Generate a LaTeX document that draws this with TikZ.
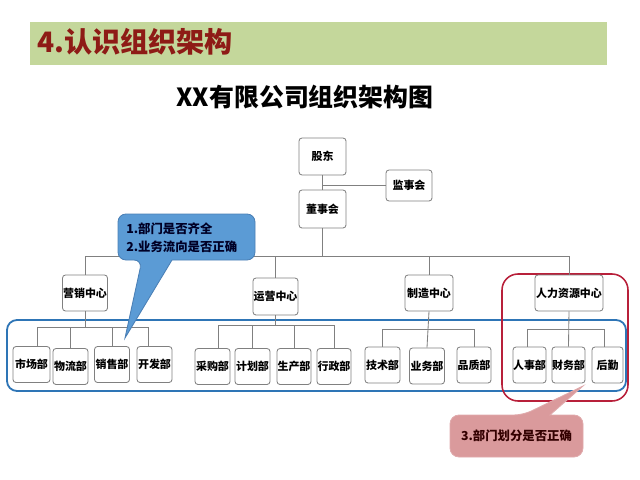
\documentclass[tikz,border=0pt]{standalone}
\usepackage{fontspec}
\setmainfont{Noto Sans CJK SC}
\definecolor{barG}{HTML}{C4D79B}
\definecolor{hdrR}{HTML}{8E1B16}
\definecolor{boxL}{HTML}{808080}
\definecolor{frameB}{HTML}{2E75B6}
\definecolor{frameR}{HTML}{B8203A}
\definecolor{callB}{HTML}{5B9BD5}
\definecolor{callBd}{HTML}{4A7FB5}
\definecolor{callR}{HTML}{DA9A9C}
\definecolor{callRd}{HTML}{E0AAAC}
\tikzset{
  orgbox/.style={draw=boxL, line width=0.6pt, fill=white, rounded corners=3*0.025cm,
    inner sep=0pt, font=\fontsize{7.8}{9}\selectfont\bfseries, text=black},
  kid/.style={orgbox, minimum width=35*0.025cm, minimum height=36*0.025cm},
  conn/.style={draw=boxL, line width=0.6pt},
}
\begin{document}
\begin{tikzpicture}[x=0.025cm, y=-0.025cm]
\useasboundingbox (0,0) rectangle (640,480);
% header
\fill[barG] (30,22) rectangle (607,65);
\node[anchor=west, text=hdrR, font=\fontsize{20}{22}\selectfont\bfseries, inner sep=0pt] (hdr) at (37,42) {4.认识组织架构};
\node[font=\fontsize{17.7}{20}\selectfont\bfseries, inner sep=0pt] (ttl) at (305,97) {XX有限公司组织架构图};

% frames
\draw[frameB, line width=1.3pt, rounded corners=10*0.025cm] (7,320) rectangle (626,391);
\draw[frameR, line width=1.1pt, rounded corners=16*0.025cm] (502,274) rectangle (628,401);

% top nodes
\node[orgbox, minimum width=47*0.025cm, minimum height=37*0.025cm] (gd) at (322.5,156.5) {股东};
\node[orgbox, minimum width=46*0.025cm, minimum height=31*0.025cm] (jsh) at (409,185.5) {监事会};
\node[orgbox, minimum width=47*0.025cm, minimum height=38*0.025cm] (dsh) at (322.5,209) {董事会};

% centers
\node[orgbox, minimum width=45*0.025cm, minimum height=36*0.025cm] (yx) at (85,293) {营销中心};
\node[orgbox, minimum width=45*0.025cm, minimum height=37*0.025cm] (yy) at (275.5,296.5) {运营中心};
\node[orgbox, minimum width=48*0.025cm, minimum height=36*0.025cm] (zz) at (429,293) {制造中心};
\node[orgbox, minimum width=68*0.025cm, minimum height=36*0.025cm] (hr) at (569,293) {人力资源中心};

% children
\node[kid, minimum width=37*0.025cm] (sc) at (31.5,364.5) {市场部};
\node[kid] (wl) at (70.5,366.5) {物流部};
\node[kid] (xs) at (112,364.5) {销售部};
\node[kid] (kf) at (154.5,364.5) {开发部};
\node[kid] (cg) at (212.5,366.5) {采购部};
\node[kid] (jh) at (252.5,366.5) {计划部};
\node[kid, minimum width=34*0.025cm] (sca) at (294,366.5) {生产部};
\node[kid, minimum width=34*0.025cm] (xz) at (334,366.5) {行政部};
\node[kid] (js) at (382.5,365) {技术部};
\node[kid] (yw) at (427,366) {业务部};
\node[kid, minimum width=34*0.025cm] (pz) at (474,365) {品质部};
\node[kid, minimum width=33*0.025cm] (rs) at (529.5,365) {人事部};
\node[kid, minimum width=33*0.025cm] (cw) at (568.5,365) {财务部};
\node[kid, minimum width=31*0.025cm] (hq) at (607.5,365) {后勤};

% bus coordinates
\coordinate (bTop) at (0,256);
\coordinate (bA) at (0,327);
\coordinate (bB) at (0,325);
\coordinate (bC) at (0,329);
\coordinate (bD) at (0,329);

% connectors top
\draw[conn] (gd.south) -- (dsh.north);
\draw[conn] (jsh.west) -- (jsh.west -| gd.south);
\draw[conn] (dsh.south) -- (dsh.south |- bTop);
\draw[conn] (yx.north) -- (yx.north |- bTop) -- (hr.north |- bTop) -- (hr.north);
\draw[conn] (yy.north) -- (yy.north |- bTop);
\draw[conn] (zz.north) -- (zz.north |- bTop);

% marketing
\draw[conn] (yx.south) -- (yx.south |- bA);
\draw[conn] ([xshift=5.5*0.025cm]sc.north) |- ([xshift=-6.5*0.025cm]kf.north |- bA) -- ([xshift=-6.5*0.025cm]kf.north);
\draw[conn] (wl.north) -- (wl.north |- bA);
\draw[conn] (xs.north) -- (xs.north |- bA);
% operations
\draw[conn] (yy.south) -- (yy.south |- bB);
\draw[conn] ([xshift=5.5*0.025cm]cg.north) |- (xz.north |- bB) -- (xz.north);
\draw[conn] (jh.north) -- (jh.north |- bB);
\draw[conn] (sca.north) -- (sca.north |- bB);
% manufacturing
\draw[conn] (zz.south) -- (yw.north);
\draw[conn] (js.north) |- (pz.north |- bC) -- (pz.north);
% HR
\draw[conn] (hr.south) -- (cw.north);
\draw[conn] ([xshift=-2.5*0.025cm]rs.north) |- ([xshift=-3.5*0.025cm]hq.north |- bD) -- ([xshift=-3.5*0.025cm]hq.north);

% blue callout
\draw[fill=callB, draw=callBd, line width=0.6pt]
  (186,214) [rounded corners=8*0.025cm] -- (118,214) -- (118,260) -- (142,260)
  [sharp corners] -- (125,338) -- (172,260)
  [rounded corners=8*0.025cm] -- (255,260) -- (255,214) -- cycle;
\node[anchor=west, align=left, inner sep=0pt, text=black!85!blue,
  font=\fontsize{8.8}{12.6}\selectfont\bfseries] (nb) at (126,238) {1.部门是否齐全\\2.业务流向是否正确};

% red callout
\draw[fill=callR, draw=callRd, line width=0.6pt]
  (516,457) [rounded corners=9*0.025cm] -- (450,457) -- (450,415) -- (523,415)
  [sharp corners] -- (583,386) -- (550,415)
  [rounded corners=9*0.025cm] -- (583,415) -- (583,457) -- cycle;
\node[inner sep=0pt, text=black!80!red, font=\fontsize{8.8}{11}\selectfont\bfseries] (nr) at (516.5,436) {3.部门划分是否正确};
\end{tikzpicture}
\end{document}
